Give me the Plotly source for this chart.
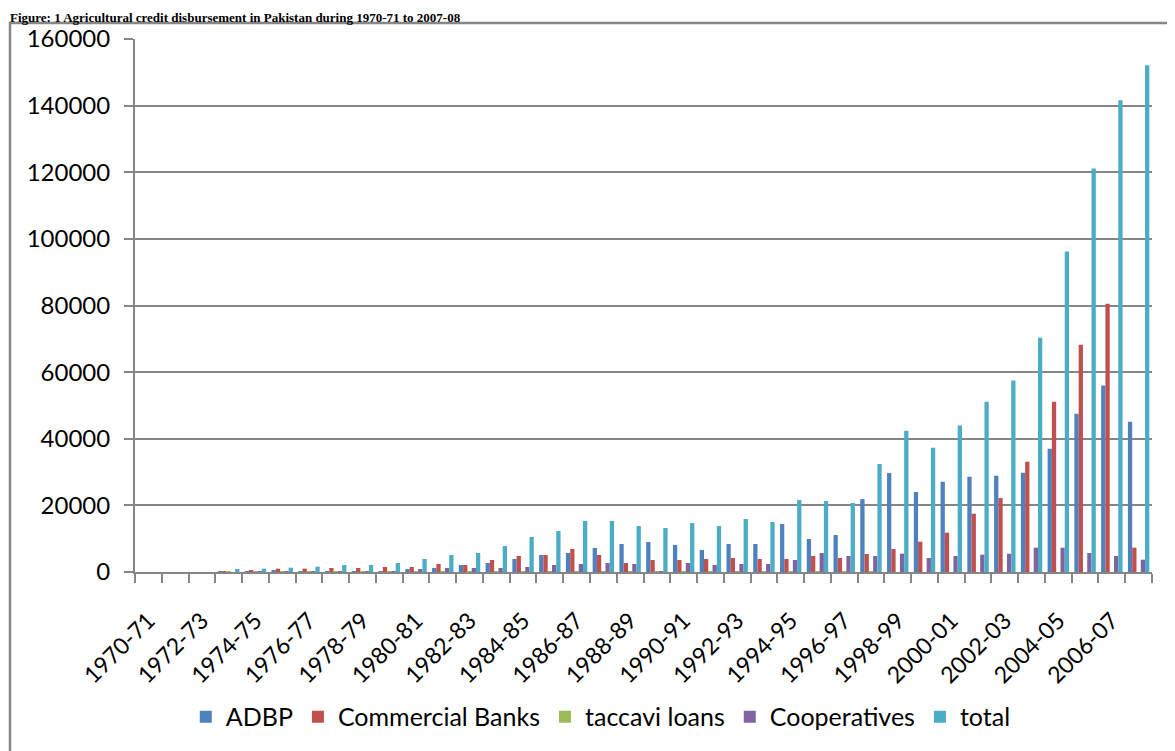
import plotly.graph_objects as go

years = ["1970-71", "1971-72", "1972-73", "1973-74", "1974-75", "1975-76", "1976-77",
         "1977-78", "1978-79", "1979-80", "1980-81", "1981-82", "1982-83", "1983-84",
         "1984-85", "1985-86", "1986-87", "1987-88", "1988-89", "1989-90", "1990-91",
         "1991-92", "1992-93", "1993-94", "1994-95", "1995-96", "1996-97", "1997-98",
         "1998-99", "1999-00", "2000-01", "2001-02", "2002-03", "2003-04", "2004-05",
         "2005-06", "2006-07", "2007-08"]

adbp = [0, 0, 0, 300, 100, 400, 300, 300, 300, 300, 900, 1200, 2100, 2700,
        3900, 5100, 5700, 7200, 8400, 9000, 8100, 6600, 8400, 8400, 14400, 9900,
        11100, 21900, 29700, 24000, 27100, 28600, 28900, 29800, 37000, 47500, 56000, 45100]
commercial_banks = [0, 0, 0, 100, 400, 1000, 1000, 1200, 1200, 1500, 1500, 2400, 2100, 3600,
                    4800, 5100, 6900, 5100, 2700, 3600, 3600, 3900, 4200, 3900, 3900, 4800,
                    4200, 5400, 6900, 9100, 11800, 17500, 22200, 33100, 51100, 68200, 80500, 7300]
taccavi_loans = [0, 0, 0, 20, 20, 20, 20, 20, 20, 20, 20, 20, 20, 20,
                 20, 20, 20, 20, 20, 20, 10, 10, 10, 10, 10, 10,
                 10, 10, 0, 0, 0, 0, 0, 0, 0, 0, 0, 0]
cooperatives = [0, 0, 0, 0, 100, 100, 200, 200, 300, 300, 900, 1200, 1200, 1200,
                1500, 2100, 2400, 2700, 2400, 300, 2700, 2100, 2400, 2400, 3600, 5700,
                4800, 4800, 5500, 4200, 4800, 5200, 5500, 7300, 7300, 5700, 4800, 3700]
total = [0, 0, 0, 900, 1000, 1300, 1600, 2100, 2100, 2700, 3900, 5100, 5700, 7800,
         10500, 12300, 15300, 15300, 13800, 13200, 14700, 13800, 15900, 15000, 21600, 21300,
         20700, 32400, 42400, 37300, 44000, 51100, 57500, 70300, 96200, 121100, 141600, 152100]

series_names = ["ADBP", "Commercial Banks", "taccavi loans", "Cooperatives", "total"]
series_values = [adbp, commercial_banks, taccavi_loans, cooperatives, total]
series_colors = ["#4F81BD", "#C0504D", "#9BBB59", "#8064A2", "#4BACC6"]

tick_text = [y if i % 2 == 0 else "" for i, y in enumerate(years)]

# The page has an 8px body margin, so the figure is sized/placed in page coords minus 8
OFF = 8
W, H = 1175 - OFF, 751 - OFF
L, R, T, B = 135 - OFF, 23, 39 - OFF, 179

fig = go.Figure()
for name, vals, col in zip(series_names, series_values, series_colors):
    fig.add_trace(go.Bar(x=years, y=vals, name=name, marker_color=col,
                         marker_line_width=0))

font_family = "Lato"
axis_col = "#868686"

fig.update_layout(
    width=W, height=H,
    margin=dict(l=L, r=R, t=T, b=B, pad=0, autoexpand=False),
    paper_bgcolor="white", plot_bgcolor="white",
    barmode="group", bargap=0.2, bargroupgap=0,
    font=dict(family=font_family, size=22, color="#000000"),
    showlegend=True,
    legend=dict(orientation="h", x=0.458, xanchor="center", y=-0.272, yanchor="middle",
                font=dict(family=font_family, size=25, color="#000000"),
                itemwidth=30, traceorder="normal", bgcolor="rgba(0,0,0,0)"),
)

fig.update_xaxes(
    type="category", tickmode="array", tickvals=years, ticktext=tick_text,
    tickangle=-45, tickson="boundaries", ticks="outside", ticklen=9,
    tickcolor=axis_col, tickwidth=2,
    showline=True, linecolor=axis_col, linewidth=2,
    showgrid=False, ticklabelstandoff=24, automargin=False,
    tickfont=dict(family=font_family, size=23, color="#000000"),
)
fig.update_yaxes(
    range=[0, 160000], tickmode="linear", tick0=0, dtick=20000,
    ticks="outside", ticklen=9, tickcolor=axis_col, tickwidth=2,
    showline=True, linecolor=axis_col, linewidth=2,
    showgrid=True, gridcolor=axis_col, gridwidth=1.5,
    zeroline=False, tickformat="d", ticklabelstandoff=9, automargin=False,
    tickfont=dict(family=font_family, size=24, color="#000000"),
)

pw = W - L - R
ph = H - T - B
def px_x(x):  # page pixel -> paper
    return (x - OFF - L) / pw
def px_y(y):
    return (H - B - (y - OFF)) / ph

# Outer chart-area border
fig.add_shape(type="rect", xref="paper", yref="paper",
              x0=px_x(10), x1=px_x(1200), y0=px_y(800), y1=px_y(23),
              line=dict(color=axis_col, width=2.5), fillcolor="rgba(0,0,0,0)", layer="below")

# Title
fig.add_annotation(text="<b>Figure: 1 Agricultural credit disbursement in Pakistan during 1970-71 to 2007-08</b>",
                   xref="paper", yref="paper", x=px_x(8), y=px_y(8),
                   xanchor="left", yanchor="top", showarrow=False,
                   font=dict(family="Liberation Serif", size=13, color="#000000"))

fig.write_html("out.html")
